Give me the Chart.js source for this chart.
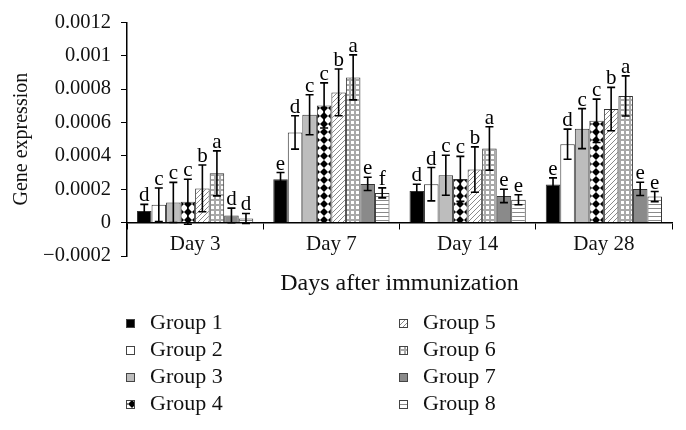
<!DOCTYPE html>
<html>
<head>
<meta charset="utf-8">
<script src="https://cdn.jsdelivr.net/npm/chart.js@4.4.0/dist/chart.umd.min.js"></script>
<style>
  html, body { margin: 0; padding: 0; background: #fff; }
</style>
</head>
<body>
<canvas id="chart" width="686" height="430"></canvas>
<script>
const days = ['Day 3', 'Day 7', 'Day 14', 'Day 28'];
const groupNames = ['Group 1', 'Group 2', 'Group 3', 'Group 4', 'Group 5', 'Group 6', 'Group 7', 'Group 8'];

// mean values per group (Day 3, Day 7, Day 14, Day 28)
const group1 = [0.000069, 0.00026, 0.00019, 0.000228];
const group2 = [0.000107, 0.00054, 0.00023, 0.00047];
const group3 = [0.000121, 0.000646, 0.000284, 0.000563];
const group4 = [0.000125, 0.000702, 0.000262, 0.00061];
const group5 = [0.000205, 0.00078, 0.000318, 0.00068];
const group6 = [0.000295, 0.00087, 0.000444, 0.000759];
const group7 = [0.000043, 0.000232, 0.00016, 0.000202];
const group8 = [0.000025, 0.000178, 0.000137, 0.000156];

// error bar half-lengths
const group1Err = [0.00004, 0.00004, 0.00004, 0.00004];
const group2Err = [0.0001, 0.0001, 0.0001, 0.00009];
const group3Err = [0.00012, 0.00012, 0.00012, 0.00012];
const group4Err = [0.000135, 0.000135, 0.000135, 0.00013];
const group5Err = [0.00014, 0.00014, 0.000136, 0.00013];
const group6Err = [0.000135, 0.000135, 0.00013, 0.00012];
const group7Err = [0.000044, 0.00004, 0.00004, 0.00004];
const group8Err = [0.00003, 0.00003, 0.00003, 0.00003];

// significance letters
const group1Letters = ['d', 'e', 'd', 'e'];
const group2Letters = ['c', 'd', 'd', 'd'];
const group3Letters = ['c', 'c', 'c', 'c'];
const group4Letters = ['c', 'c', 'c', 'c'];
const group5Letters = ['b', 'b', 'b', 'b'];
const group6Letters = ['a', 'a', 'a', 'a'];
const group7Letters = ['d', 'e', 'e', 'e'];
const group8Letters = ['d', 'f', 'e', 'e'];

const yTickLabels = ['\u22120.0002', '0', '0.0002', '0.0004', '0.0006', '0.0008', '0.001', '0.0012'];

const values = [group1, group2, group3, group4, group5, group6, group7, group8];
const errors = [group1Err, group2Err, group3Err, group4Err, group5Err, group6Err, group7Err, group8Err];
const letters = [group1Letters, group2Letters, group3Letters, group4Letters, group5Letters, group6Letters, group7Letters, group8Letters];

const SERIF = '"Liberation Serif", "DejaVu Serif", serif';
const ctx = document.getElementById('chart').getContext('2d');

function tile(size, draw) {
    const c = document.createElement('canvas');
    c.width = size;
    c.height = size;
    draw(c.getContext('2d'), size);
    return ctx.createPattern(c, 'repeat');
}

const fills = [
    '#000000',
    '#ffffff',
    '#bdbdbd',
    tile(8, function(g, s) {  // diamond checker
        g.fillStyle = '#fff'; g.fillRect(0, 0, s, s);
        g.fillStyle = '#000';
        g.beginPath(); g.moveTo(4, 0); g.lineTo(8, 4); g.lineTo(4, 8); g.lineTo(0, 4); g.closePath(); g.fill();
    }),
    tile(5, function(g, s) {  // diagonal hatch
        g.fillStyle = '#fff'; g.fillRect(0, 0, s, s);
        g.strokeStyle = '#8a8a8a'; g.lineWidth = 1;
        g.beginPath(); g.moveTo(-1, s + 1); g.lineTo(s + 1, -1); g.stroke();
    }),
    tile(5, function(g, s) {  // grid
        g.fillStyle = '#a9a9a9'; g.fillRect(0, 0, s, s);
        g.fillStyle = '#fff'; g.fillRect(1, 1, 3, 3);
    }),
    '#8a8a8a',
    tile(4, function(g, s) {  // horizontal lines
        g.fillStyle = '#fff'; g.fillRect(0, 0, s, s);
        g.fillStyle = '#8a8a8a'; g.fillRect(0, 0, s, 1);
    })
];

const datasets = groupNames.map(function(name, i) {
    return {
        label: name,
        data: values[i],
        backgroundColor: fills[i],
        borderColor: '#333',
        borderWidth: 1,
        categoryPercentage: 0.853,
        barPercentage: 1
    };
});

const errorBars = {
    id: 'errorBars',
    afterDatasetsDraw(chart) {
        const y = chart.scales.y;
        const c = chart.ctx;
        c.save();
        c.strokeStyle = '#000';
        c.lineWidth = 1.6;
        c.fillStyle = '#000';
        c.font = '21px ' + SERIF;
        c.textAlign = 'center';
        c.textBaseline = 'alphabetic';
        chart.data.datasets.forEach(function(ds, i) {
            chart.getDatasetMeta(i).data.forEach(function(bar, j) {
                const top = y.getPixelForValue(values[i][j] + errors[i][j]);
                const bot = y.getPixelForValue(values[i][j] - errors[i][j]);
                c.beginPath();
                c.moveTo(bar.x, top); c.lineTo(bar.x, bot);
                c.moveTo(bar.x - 4, top); c.lineTo(bar.x + 4, top);
                c.moveTo(bar.x - 4, bot); c.lineTo(bar.x + 4, bot);
                c.stroke();
                c.fillText(letters[i][j], bar.x, top - 3);
            });
        });
        c.restore();
    }
};

const sideLegend = {
    id: 'sideLegend',
    afterDraw(chart) {
        const c = chart.ctx;
        c.save();
        c.font = '22px ' + SERIF;
        c.textBaseline = 'middle';
        c.textAlign = 'left';
        groupNames.forEach(function(name, i) {
            const col = i < 4 ? 0 : 1;
            const row = i % 4;
            const mx = col === 0 ? 126 : 399;
            const my = 323 + row * 27;
            c.fillStyle = fills[i];
            c.fillRect(mx, my - 4, 8, 8);
            c.strokeStyle = '#444';
            c.lineWidth = 1;
            c.strokeRect(mx + 0.5, my - 3.5, 8, 8);
            c.fillStyle = '#111';
            c.fillText(name, mx + 24, my);
        });
        c.restore();
    }
};

new Chart(ctx, {
    type: 'bar',
    data: { labels: days, datasets: datasets },
    options: {
        responsive: false,
        animation: false,
        layout: { padding: { top: 22, right: 14, bottom: 174, left: 0 } },
        plugins: {
            legend: { display: false },
            tooltip: { enabled: false }
        },
        scales: {
            x: {
                position: { y: 0 },
                grid: { display: true, drawOnChartArea: false, drawTicks: true, tickLength: 6, color: '#000', offset: true },
                border: { display: true, color: '#000', width: 1.5 },
                ticks: { color: '#111', padding: 3, font: { family: SERIF, size: 21 } },
                title: { display: true, text: 'Days after immunization', color: '#111', font: { family: SERIF, size: 24 }, padding: { top: 9, bottom: 0 } }
            },
            y: {
                min: -0.0002,
                max: 0.0012,
                afterFit: function(scale) { scale.width = 127; },
                grid: { display: true, drawOnChartArea: false, drawTicks: true, tickLength: 6, color: '#000' },
                border: { display: true, color: '#000', width: 1.5 },
                ticks: {
                    stepSize: 0.0002,
                    padding: 10,
                    color: '#111',
                    font: { family: SERIF, size: 20.5 },
                    callback: function(v, i) { return yTickLabels[i]; }
                },
                title: { display: true, text: 'Gene expression', color: '#111', font: { family: SERIF, size: 20 }, padding: { top: 10, bottom: 0 } }
            }
        }
    },
    plugins: [errorBars, sideLegend]
});
</script>
</body>
</html>
